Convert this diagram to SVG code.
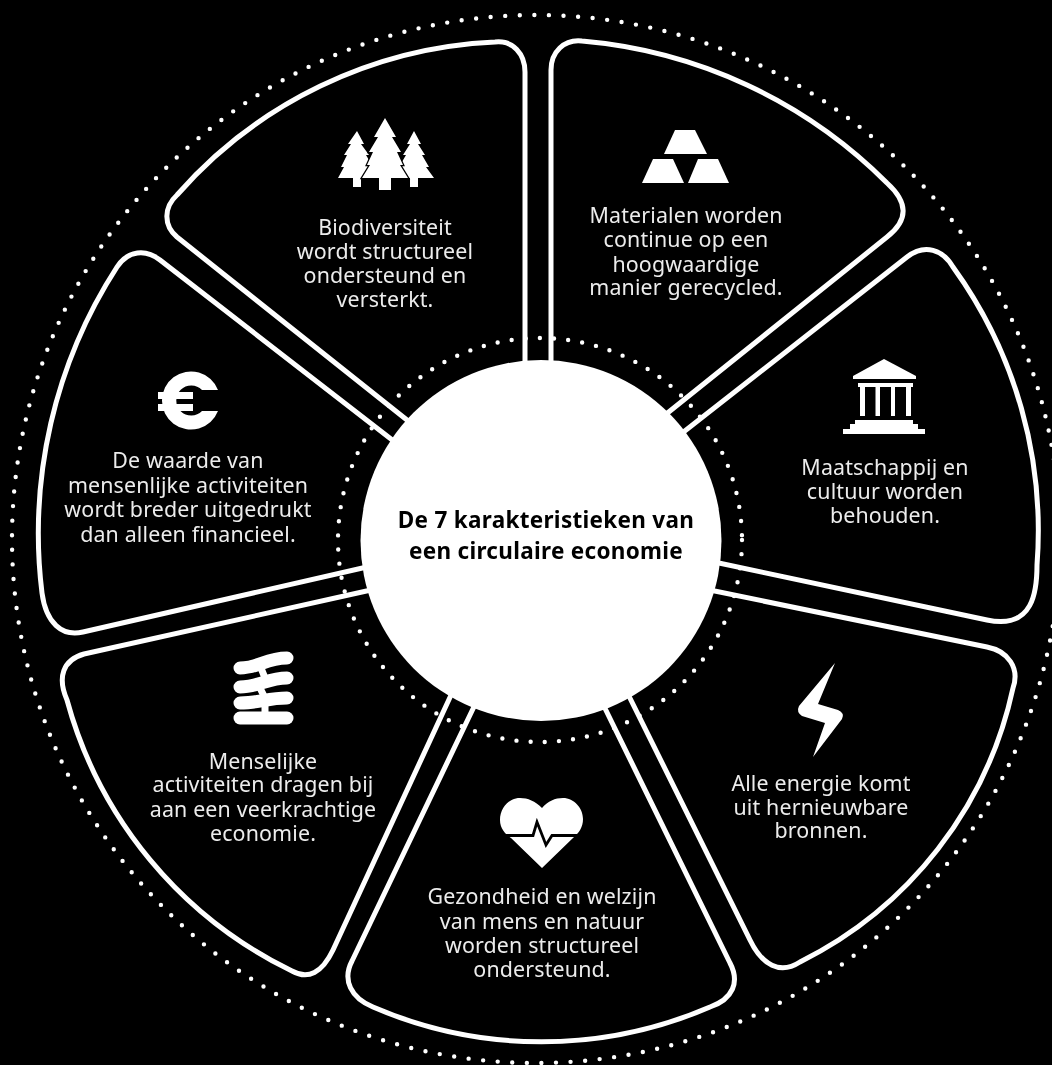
<svg xmlns="http://www.w3.org/2000/svg" width="1052" height="1065" viewBox="0 0 1052 1065">
<style>
.bg{fill:#000}
.sec{fill:none;stroke:#fff;stroke-width:5;stroke-linejoin:round}
.dot{fill:none;stroke:#fff;stroke-width:4.4;stroke-linecap:round}
.ic{fill:#fff}
.t{fill:#ececec;font-family:"Noto Sans","Open Sans",sans-serif;font-size:21.4px;letter-spacing:.15px;text-anchor:middle}
.title{fill:#000;font-family:"Noto Sans","Open Sans",sans-serif;font-size:22.5px;letter-spacing:.3px;font-weight:700;text-anchor:middle}
</style>
<defs><filter id="soft" x="-2%" y="-2%" width="104%" height="104%"><feGaussianBlur stdDeviation="0.45"/></filter></defs>
<rect class="bg" width="1052" height="1065"/>
<g filter="url(#soft)">
<g id="dots">
<circle class="dot" cx="536" cy="539" r="524" stroke-dasharray="0 14.6"/>
<circle class="dot" cx="540" cy="540" r="202" stroke-dasharray="0 14.2"/>
</g>
<g id="sector-biodiversiteit">
<path class="sec" d="M525 380V72C525 54 513 40 495 42A450 450 0 0 0 177 195C164 207 163 225 177 237L412 424"/>
<g class="ic"><path d="M357 131L364 144H361L369 155H366L373 167H369L373 178H361V187H353V178H338L344 167H341L347 155H344L351 144H348Z"/><path d="M414 131L421 144H418L425 155H422L429 167H426L434 178H418V187H410V178H396L402 167H399L406 155H403L410 144H407Z"/><path stroke="#000" stroke-width="2.5" paint-order="stroke" d="M385 118L396 137H392L401 152H397L403 165H400L408 178H391V190H379V178H362L370 165H367L373 152H369L378 137H374Z"/></g>
<text class="t"><tspan x="385" y="235">Biodiversiteit</tspan><tspan x="385" y="259">wordt structureel</tspan><tspan x="385" y="283">ondersteund en</tspan><tspan x="385" y="307">versterkt.</tspan></text>
</g>
<g id="sector-materialen">
<path class="sec" d="M551 380V70C551 52 564 39 582 41A490 490 0 0 1 887 183C908 202 909 220 887 237L660 419"/>
<g class="ic"><path d="M675 130H695L707 154H664Z"/><path d="M653 159H673L684 183H642Z"/><path d="M698 159H718L729 183H688Z"/></g>
<text class="t"><tspan x="686" y="223">Materialen worden</tspan><tspan x="686" y="247">continue op een</tspan><tspan x="686" y="272">hoogwaardige</tspan><tspan x="686" y="295">manier gerecycled.</tspan></text>
</g>
<g id="sector-maatschappij">
<path class="sec" d="M672 441L907 257C925 243 943 250 953 267A450 450 0 0 1 1037 565C1037 590 1034 630 987 620L700 559"/>
<g class="ic"><path d="M884 359L916 376V379H853V376Z"/><rect x="858" y="383" width="55" height="4"/><rect x="860" y="387" width="5" height="29"/><rect x="875.500" y="387" width="4.500" height="29"/><rect x="891" y="387" width="4" height="29"/><rect x="906" y="387" width="5" height="29"/><path d="M855 420H913V424H918V429H925V434H843V429H850V424H855Z"/></g>
<text class="t"><tspan x="885" y="475">Maatschappij en</tspan><tspan x="885" y="499">cultuur worden</tspan><tspan x="885" y="523">behouden.</tspan></text>
</g>
<g id="sector-energie">
<path class="sec" d="M700 588L987 647C1008 651 1020 668 1013 688A400 400 0 0 1 800 962C780 975 762 965 750 940L618 674"/>
<path class="ic" d="M835 663L818 704L838 710Q845 713 842 719L813 757L825 723L802 716Q796 712 799 706Z"/>
<text class="t"><tspan x="821" y="791">Alle energie komt</tspan><tspan x="821" y="815">uit hernieuwbare</tspan><tspan x="821" y="838">bronnen.</tspan></text>
</g>
<g id="sector-gezondheid">
<path class="sec" d="M596 690L730 963C740 982 733 999 710 1007A425 425 0 0 1 373 1007C351 998 342 980 352 961L482 690"/>
<path class="ic" d="M542 808C535 801 528 798 520 798C508 798 500 809 500 820C500 828 505 834 511 838L542 868L573 838C579 833 583 827 583 819C583 808 574 798 563 798C555 798 548 801 542 808Z"/>
<path d="M498 835.500H533L537 822L546 845L552 835.500H586" fill="none" stroke="#000" stroke-width="2.800"/>
<text class="t"><tspan x="542" y="904">Gezondheid en welzijn</tspan><tspan x="542" y="929">van mens en natuur</tspan><tspan x="542" y="953">worden structureel</tspan><tspan x="542" y="977">ondersteund.</tspan></text>
</g>
<g id="sector-menselijke">
<path class="sec" d="M458 680L333 950C322 973 308 980 292 971A425 425 0 0 1 67 700C57 677 63 660 84 654L380 588"/>
<g fill="none" stroke="#fff" stroke-linecap="round" stroke-width="13"><path d="M240 668C258 668 266 658 287 658"/><path d="M240 687C258 687 268 678 287 678"/><path d="M240 703C258 703 268 698 287 698"/><path d="M240 718H287"/></g>
<path fill="none" stroke="#fff" stroke-width="7" d="M261 668L265 678L260 688L265 698V718"/>
<text class="t"><tspan x="263" y="769">Menselijke</tspan><tspan x="263" y="792">activiteiten dragen bij</tspan><tspan x="263" y="817">aan een veerkrachtige</tspan><tspan x="263" y="841">economie.</tspan></text>
</g>
<g id="sector-waarde">
<path class="sec" d="M380 564L83 632C62 637 46 623 42 593A490 490 0 0 1 117 267C128 250 146 249 160 260L400 446"/>
<g class="ic"><path d="M218 390L202 390A15 15 0 1 0 202 411L218 411A29 29 0 1 1 218 390Z"/><rect x="158" y="392" width="35" height="7"/><rect x="158" y="404" width="35" height="7"/></g>
<text class="t"><tspan x="188" y="468">De waarde van</tspan><tspan x="188" y="493">mensenlijke activiteiten</tspan><tspan x="188" y="517">wordt breder uitgedrukt</tspan><tspan x="188" y="542">dan alleen financieel.</tspan></text>
</g>
<g id="center">
<circle cx="541" cy="540.500" r="180.500" fill="#fff"/>
<text class="title"><tspan x="546" y="528">De 7 karakteristieken van</tspan><tspan x="546" y="559">een circulaire economie</tspan></text>
</g>
</g>
</svg>
